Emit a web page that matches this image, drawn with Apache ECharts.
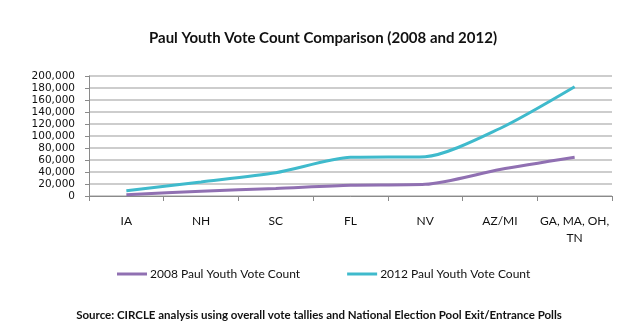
<!DOCTYPE html>
<html>
<head>
<meta charset="utf-8">
<script src="https://cdn.jsdelivr.net/npm/echarts@6/dist/echarts.min.js"></script>
<style>html,body{margin:0;padding:0;background:#fff}#c{width:633px;height:328px}</style>
</head>
<body>
<div id="c"></div>
<script>
const categories = ['IA', 'NH', 'SC', 'FL', 'NV', 'AZ/MI', 'GA, MA, OH,\nTN'];
const youth2008 = [2200, 8000, 12500, 17800, 19400, 44000, 64500];
const youth2012 = [8800, 23500, 38800, 64400, 65600, 112500, 182000];
const yTicks = { min: 0, max: 200000, interval: 20000 };

const chart = echarts.init(document.getElementById('c'));
const font = 'Lato, "Open Sans", sans-serif';
chart.setOption({
  animation: false,
  title: [{
    text: 'Paul Youth Vote Count Comparison (2008 and 2012)',
    left: 318, textAlign: 'center', top: 26,
    textStyle: { fontFamily: font, fontSize: 15, fontWeight: 'bold', color: '#111' }
  }, {
    text: 'Source: CIRCLE analysis using overall vote tallies and National Election Pool Exit/Entrance Polls',
    left: 314, textAlign: 'center', top: 304,
    textStyle: { fontFamily: font, fontSize: 11.5, fontWeight: 'bold', color: '#111' }
  }],
  legend: {
    top: 263, left: 112, itemGap: 47, itemWidth: 30, itemHeight: 3,
    icon: 'rect',
    textStyle: { fontFamily: font, fontSize: 12, color: '#111', padding: [0, 0, 0, -2] },
    data: ['2008 Paul Youth Vote Count', '2012 Paul Youth Vote Count']
  },
  grid: { left: 89, right: 21, top: 76, bottom: 132, containLabel: false },
  xAxis: {
    type: 'category', data: categories, boundaryGap: true,
    axisLine: { lineStyle: { color: '#8a8a8a', width: 1 } },
    axisTick: { show: true, length: 5, lineStyle: { color: '#8a8a8a' } },
    axisLabel: { fontFamily: font, fontSize: 12, color: '#111', margin: 17, lineHeight: 17, interval: 0 }
  },
  yAxis: {
    type: 'value', min: yTicks.min, max: yTicks.max, interval: yTicks.interval,
    axisLine: { show: true, lineStyle: { color: '#8a8a8a', width: 1 } },
    axisTick: { show: true, length: 4, lineStyle: { color: '#8a8a8a' } },
    splitLine: { show: true, showMinLine: true, showMaxLine: true, lineStyle: { color: '#bdbdbd', width: 1.5 } },
    axisLabel: {
      fontFamily: '"DejaVu Sans", sans-serif', fontSize: 10.5, color: '#111', margin: 14,
      showMinLabel: true, showMaxLabel: true, minMargin: 0,
      formatter: v => v.toLocaleString('en-US')
    }
  },
  series: [{
    name: '2008 Paul Youth Vote Count', type: 'line', data: youth2008,
    smooth: 0.25, showSymbol: false, symbol: 'none',
    itemStyle: { color: '#9070b2' }, lineStyle: { color: '#9070b2', width: 3 }
  }, {
    name: '2012 Paul Youth Vote Count', type: 'line', data: youth2012,
    smooth: 0.25, showSymbol: false, symbol: 'none',
    itemStyle: { color: '#3fbacc' }, lineStyle: { color: '#3fbacc', width: 3 }
  }]
});
</script>
</body>
</html>
